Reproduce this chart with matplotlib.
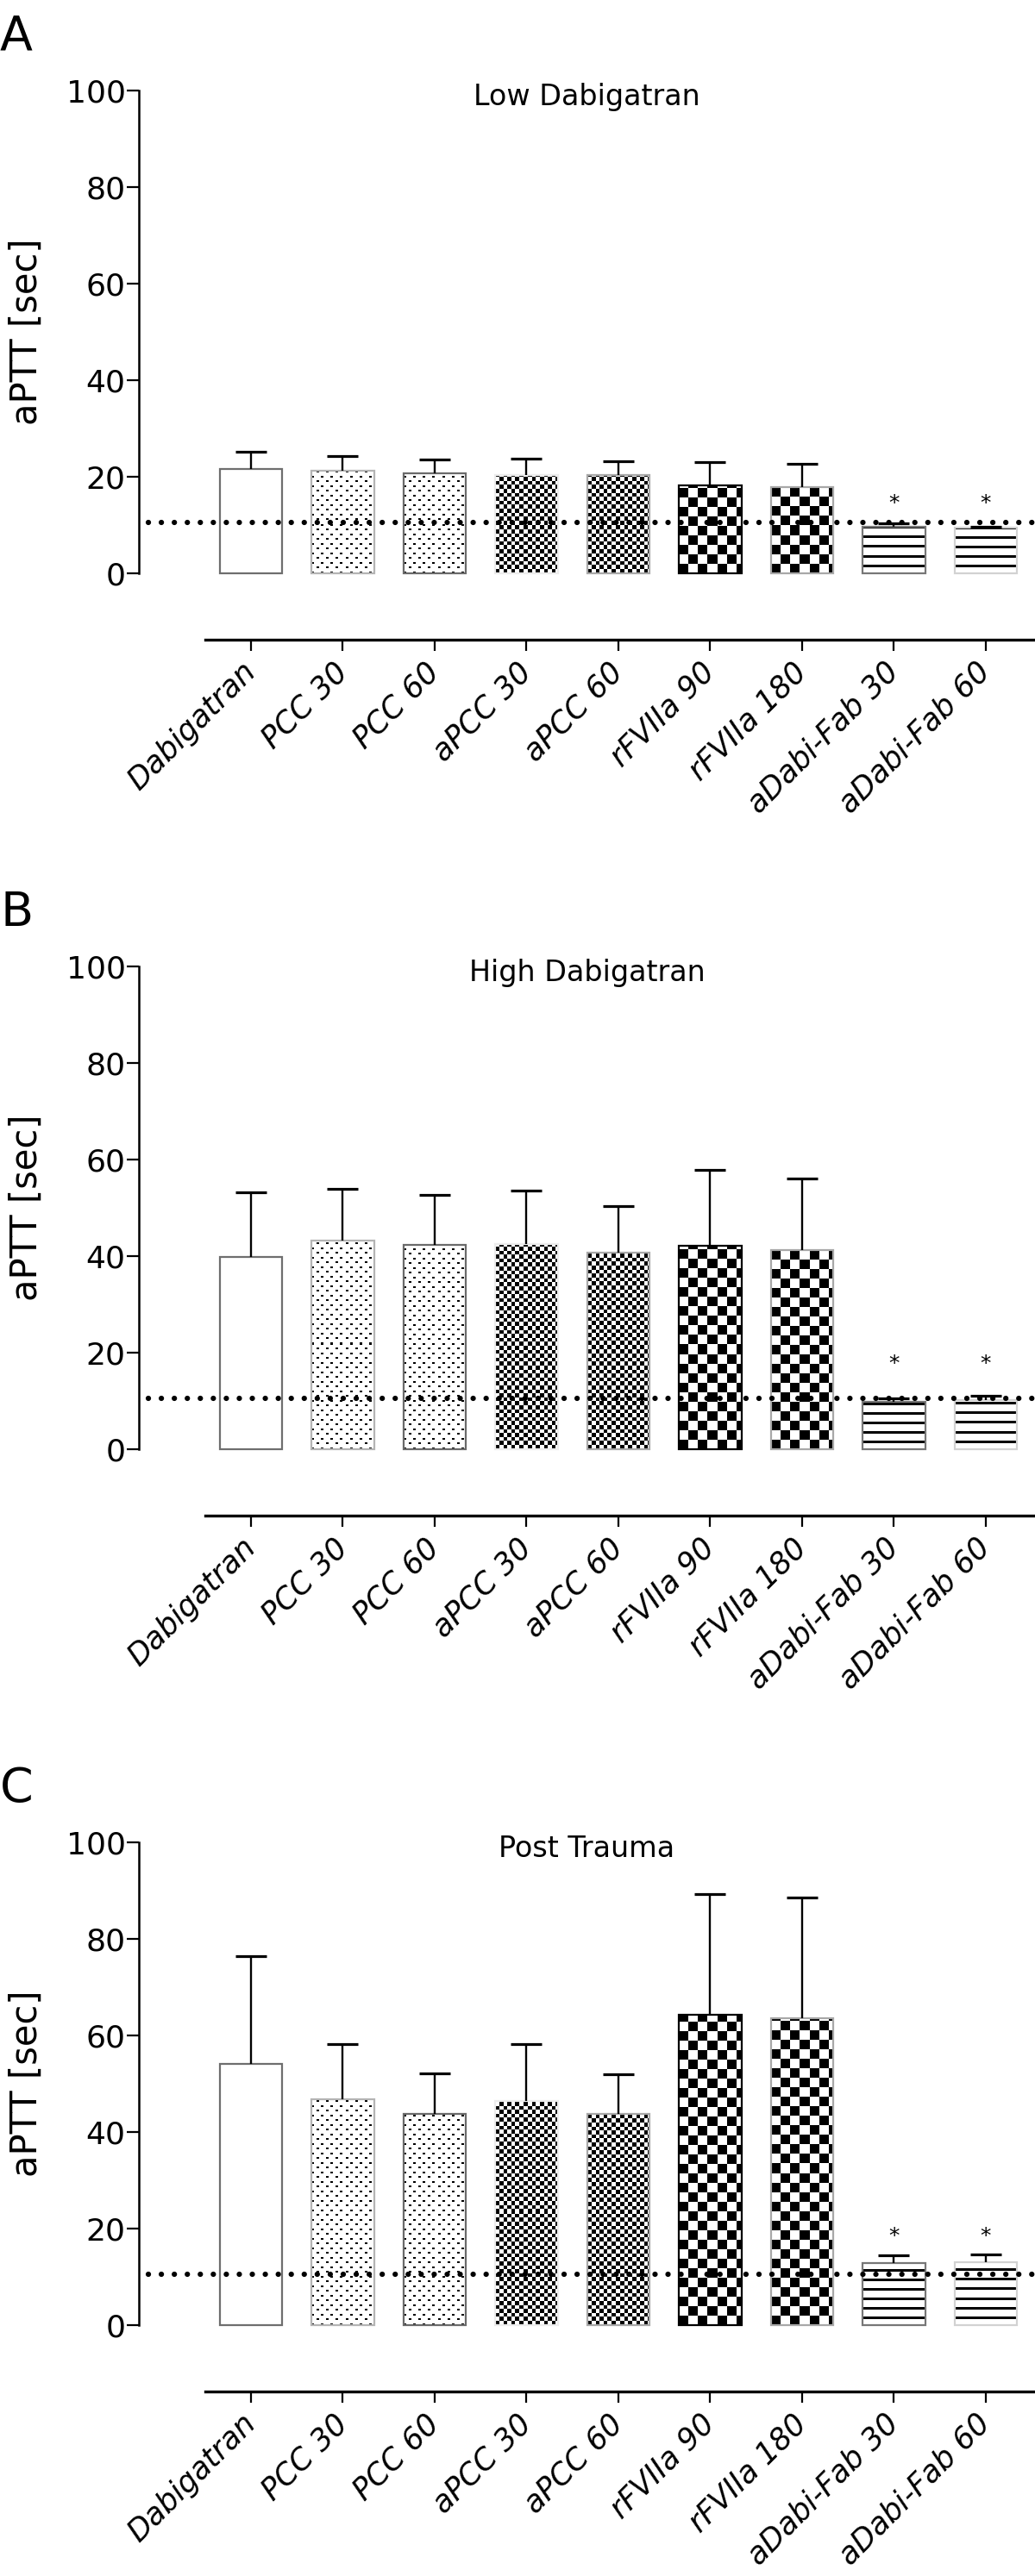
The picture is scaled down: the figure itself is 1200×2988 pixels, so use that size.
import numpy as np
import matplotlib
matplotlib.use("Agg")
import matplotlib.pyplot as plt

# ---- data ----
groups = ["Dabigatran", "PCC 30", "PCC 60", "aPCC 30", "aPCC 60",
          "rFVIIa 90", "rFVIIa 180", "aDabi-Fab 30", "aDabi-Fab 60"]
panel_letters = ["A", "B", "C"]
panel_titles = ["Low Dabigatran", "High Dabigatran", "Post Trauma"]

low_mean = [21.6, 21.3, 20.8, 20.4, 20.4, 18.2, 17.9, 9.7, 9.4]
low_sd = [3.5, 3.0, 2.7, 3.3, 2.8, 4.8, 4.8, 0.7, 0.3]
high_mean = [39.9, 43.3, 42.3, 42.5, 40.8, 42.2, 41.2, 9.8, 10.2]
high_sd = [13.4, 10.7, 10.3, 11.0, 9.5, 15.7, 14.9, 0.8, 0.8]
trauma_mean = [54.1, 46.7, 43.7, 46.5, 43.7, 64.2, 63.6, 12.8, 13.1]
trauma_sd = [22.4, 11.5, 8.4, 11.7, 8.3, 25.1, 24.9, 1.6, 1.6]

significant = [False, False, False, False, False, False, False, True, True]
star_height = [15.5, 18.8, 19.4]   # y position of the "*" marks per panel
normal_limit = 10.6                # dotted reference line

# ---- styling ----
fills = ["none", "dots", "dots", "fine", "fine", "coarse", "coarse", "lines", "lines"]
edges = ["#6e6e6e", "#b4b4b4", "#6a6a6a", "#ececec", "#a8a8a8",
         "#000000", "#a8a8a8", "#777777", "#d2d2d2"]

W, H = 1200, 2988
fig = plt.figure(figsize=(W / 100, H / 100), dpi=100)


def texture(kind, ny, nx):
    i, j = np.mgrid[0:ny, 0:nx]
    if kind == "dots":
        on = (((i % 11 < 2) & (j % 11 < 3)) |
              (((i - 6) % 11 < 2) & ((j - 6) % 11 < 3)))
    elif kind == "fine":
        on = (np.floor(i / 4.6) + np.floor(j / 4.6)) % 2 == 0
    elif kind == "coarse":
        on = (i // 11 + j // 11) % 2 == 0
    else:  # horizontal lines
        on = (i - 7) % 11 < 3
    img = np.ones((ny, nx))
    img[on] = 0.0
    return img


means = [low_mean, high_mean, trauma_mean]
sds = [low_sd, high_sd, trauma_sd]
top_px = [105, 1121, 2137]     # pixel row of the 100 tick
px_per_unit = 5.6
axis_gap = 77                  # detached x axis below zero, px
left_px = 161

x = np.arange(len(groups))
xmin = -1.22
xmax = (W - left_px) / (106.5) + xmin

for p in range(3):
    zero_px = top_px[p] + 100 * px_per_unit
    bottom_px = zero_px + axis_gap
    ax = fig.add_axes([left_px / W, 1 - bottom_px / H,
                       (W - left_px) / W, (bottom_px - top_px[p]) / H])
    ymin = -axis_gap / px_per_unit
    ax.set_xlim(xmin, xmax)
    ax.set_ylim(ymin, 100)

    # white bodies, textures, then outlines
    body = ax.bar(x, means[p], width=0.68, color="white", edgecolor="none", zorder=1)
    for rect, kind in zip(body, fills):
        if kind == "none":
            continue
        x0, y0 = rect.get_x(), rect.get_y()
        x1, y1 = x0 + rect.get_width(), y0 + rect.get_height()
        (px0, py0), (px1, py1) = ax.transData.transform([(x0, y0), (x1, y1)])
        nx, ny = int(round(px1 - px0)), int(round(py1 - py0))
        im = ax.imshow(texture(kind, ny, nx), cmap="gray", vmin=0, vmax=1,
                       origin="lower", extent=(x0, x1, y0, y1),
                       interpolation="nearest", aspect="auto", zorder=2)
        im.set_clip_path(rect)
    ax.bar(x, means[p], width=0.68, fill=False, edgecolor=edges,
           linewidth=1.6, zorder=3)

    eb = ax.errorbar(x, means[p], yerr=[np.zeros(len(x)), sds[p]], fmt="none",
                     ecolor="black", elinewidth=1.7, capsize=13, capthick=2.3,
                     zorder=4)
    eb.lines[1][0].set_visible(False)

    ax.axhline(normal_limit, xmin=0.011, xmax=1, color="black", linewidth=4.5,
               linestyle=(0, (0.01, 2.4)), dash_capstyle="round", zorder=5)

    for i, sig in enumerate(significant):
        if sig:
            ax.text(x[i], star_height[p] - 2.3, "*", ha="center", va="baseline",
                    fontsize=18, zorder=6)

    ax.text(0.5, 97, panel_titles[p], transform=ax.get_yaxis_transform(),
            ha="center", va="baseline", fontsize=24)

    for s in ["top", "right"]:
        ax.spines[s].set_visible(False)
    ax.spines["left"].set_bounds(0, 100)
    ax.spines["bottom"].set_bounds(-0.5, xmax)
    ax.spines["left"].set_linewidth(1.8)
    ax.spines["bottom"].set_linewidth(2.4)

    ax.set_yticks(np.arange(0, 101, 20))
    ax.tick_params(axis="y", length=10, width=1.6, labelsize=26, pad=1)
    ax.set_xticks(x)
    ax.set_xticklabels(groups, rotation=45, ha="right", va="center",
                       rotation_mode="anchor", fontsize=25, style="italic")
    ax.tick_params(axis="x", length=9, width=1.6, pad=14)

    ax.set_ylabel("aPTT [sec]", fontsize=30)
    ax.yaxis.set_label_coords(-0.105, (50 - ymin) / (100 - ymin))

    fig.text(0.0, 1 - (top_px[p] - 47) / H, panel_letters[p],
             fontsize=40, va="baseline", ha="left")

fig.savefig("out.png", dpi=100)
